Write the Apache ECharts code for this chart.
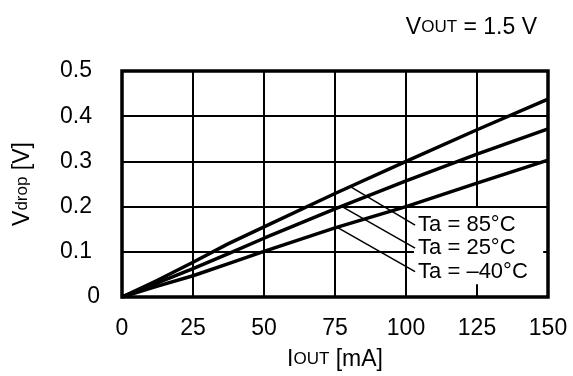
<!DOCTYPE html>
<html>
<head>
<meta charset="utf-8">
<script src="https://cdn.jsdelivr.net/npm/echarts@6/dist/echarts.min.js"></script>
<style>
html,body{margin:0;padding:0;background:#fff;}
#chart{width:573px;height:376px;}
</style>
</head>
<body>
<div id="chart"></div>
<script>
// ---- data ----
const iout = [0, 12.5, 25, 37.5, 50, 75, 100, 125, 150];
const vdrop85 = [0, 0.037, 0.077, 0.118, 0.155, 0.229, 0.3, 0.37, 0.438];
const vdrop25 = [0, 0.031, 0.063, 0.096, 0.13, 0.195, 0.257, 0.316, 0.372];
const vdropM40 = [0, 0.024, 0.047, 0.074, 0.101, 0.153, 0.2, 0.252, 0.303];
const seriesNames = ['Ta = 85°C', 'Ta = 25°C', 'Ta = \u201340°C'];
// leader lines: [start on curve] -> [label anchor]
const leaderStart = [[80.7, 0.243], [77.5, 0.2], [75.8, 0.154]];
const leaderEnd = [[103.2, 0.159], [103.2, 0.108], [103.2, 0.056]];
const labelBox = [[102.8, 0.028], [148.3, 0.197]];
const xTicks = {min: 0, max: 150, interval: 25};
const yTicks = {min: 0, max: 0.5, interval: 0.1};
const titleText = {main: 'V', sub: 'OUT', rest: ' = 1.5 V'};

const FONT = '"Liberation Sans", Arial, Helvetica, sans-serif';
const chart = echarts.init(document.getElementById('chart'));

function pairs(xs, ys) { return xs.map((x, i) => [x, ys[i]]); }

const curveStyle = {color: '#000', width: 3.5};
const curves = [vdrop85, vdrop25, vdropM40].map((ys, k) => ({
  type: 'line', name: seriesNames[k], data: pairs(iout, ys),
  symbol: 'none', smooth: false, lineStyle: curveStyle, z: 5,
  animation: false
}));

const leaders = leaderStart.map((s, k) => ({
  type: 'line', data: [s, leaderEnd[k]], symbol: 'none',
  lineStyle: {color: '#000', width: 1.5}, z: 6, animation: false
}));

const labels = {
  type: 'scatter', symbolSize: 0, z: 7, animation: false,
  itemStyle: {opacity: 1},
  data: leaderEnd.map((p, k) => ({value: p, name: seriesNames[k]})),
  label: {show: true, position: 'right', distance: 3, formatter: p => p.name,
    color: '#000', opacity: 1, fontSize: 22, fontFamily: FONT}
};

const boxSeries = {
  type: 'line', data: [], z: 4, animation: false,
  markArea: {silent: true, itemStyle: {color: '#fff'},
    data: [[{coord: labelBox[0]}, {coord: labelBox[1]}]]}
};

chart.setOption({
  animation: false,
  backgroundColor: '#fff',
  title: {
    text: '{v|' + titleText.main + '}{s|' + titleText.sub + '}{v|' + titleText.rest + '}',
    right: 31, top: 11,
    textStyle: {fontWeight: 'normal', rich: {
      v: {fontSize: 23, color: '#000', fontFamily: FONT, fontWeight: 'normal'},
      s: {fontSize: 17, color: '#000', fontFamily: FONT, fontWeight: 'normal'}
    }}
  },
  grid: {left: 122, right: 25, top: 71, bottom: 72, show: true,
    borderColor: '#000', borderWidth: 3.5, backgroundColor: 'transparent'},
  xAxis: {
    type: 'value', min: xTicks.min, max: xTicks.max, interval: xTicks.interval,
    axisLine: {show: false}, axisTick: {show: false},
    splitLine: {show: true, lineStyle: {color: '#000', width: 2}},
    axisLabel: {color: '#000', fontSize: 23, fontFamily: FONT, margin: 20},
    name: '{v|I}{s|OUT}{v| [mA]}', nameLocation: 'middle', nameGap: 51,
    nameTextStyle: {rich: {
      v: {fontSize: 23, color: '#000', fontFamily: FONT},
      s: {fontSize: 17, color: '#000', fontFamily: FONT}
    }}
  },
  yAxis: {
    type: 'value', min: yTicks.min, max: yTicks.max, interval: yTicks.interval,
    axisLine: {show: false}, axisTick: {show: false},
    splitLine: {show: true, lineStyle: {color: '#000', width: 2}},
    axisLabel: {color: '#000', fontSize: 23, fontFamily: FONT, margin: 22,
      formatter: v => v === 0 ? '0' : '{p|' + v.toFixed(1) + '}',
      rich: {p: {fontSize: 23, color: '#000', fontFamily: FONT, padding: [0, 8, 0, 0]}}},
    name: '{v|V}{s|drop}{v| [V]}', nameLocation: 'middle', nameGap: 88,
    nameTextStyle: {rich: {
      v: {fontSize: 23, color: '#000', fontFamily: FONT},
      s: {fontSize: 17, color: '#000', fontFamily: FONT}
    }}
  },
  series: [boxSeries].concat(curves, leaders, [labels])
});
</script>
</body>
</html>
